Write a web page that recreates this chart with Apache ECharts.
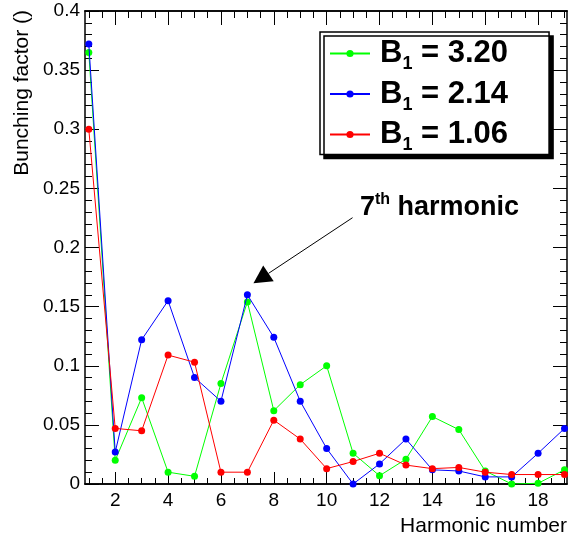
<!DOCTYPE html>
<html><head><meta charset="utf-8">
<script src="https://cdn.jsdelivr.net/npm/echarts@6/dist/echarts.min.js"></script>
<style>html,body{margin:0;padding:0;background:#fff}#c{width:575px;height:541px}</style>
</head><body><div id="c"></div>
<script>
const harmonics = [1,2,3,4,5,6,7,8,9,10,11,12,13,14,15,16,17,18,19];
const b320 = [0.365,0.020,0.073,0.010,0.0065,0.085,0.154,0.062,0.084,0.100,0.026,0.007,0.021,0.057,0.046,0.011,0.000,0.0006,0.012];
const b214 = [0.372,0.027,0.122,0.155,0.090,0.070,0.160,0.124,0.070,0.030,0.000,0.017,0.038,0.012,0.011,0.006,0.006,0.026,0.047];
const b106 = [0.300,0.047,0.045,0.109,0.103,0.010,0.010,0.054,0.038,0.013,0.019,0.026,0.016,0.013,0.014,0.010,0.008,0.008,0.008];
const seriesNames = ['B1 = 3.20','B1 = 2.14','B1 = 1.06'];
const seriesValues = [b320, b214, b106];
const seriesColors = ['#00ff00','#0000ff','#ff0000'];
const xMajorTicks = [2,4,6,8,10,12,14,16,18];
const xMinorTicks = [1,1.5,2,2.5,3,3.5,4,4.5,5,5.5,6,6.5,7,7.5,8,8.5,9,9.5,10,10.5,11,11.5,12,12.5,13,13.5,14,14.5,15,15.5,16,16.5,17,17.5,18,18.5,19];
const xRange = [0.856, 19.094];
const yRange = [0, 0.4];
const yStep = 0.05;
const xTitle = 'Harmonic number';
const yTitle = 'Bunching factor ()';
const arrowTail = [10.98, 0.2252];
const arrowTip = [7.23, 0.1697];
const noteAnchor = [11.26, 0.2342];

const FONT = 'Liberation Sans, Arial, sans-serif';
const chart = echarts.init(document.getElementById('c'), null, {renderer:'canvas'});

function xAxisDef(pos, ticks, len, labels) {
  return {
    type:'value', min:xRange[0], max:xRange[1], position:pos, gridIndex:0,
    axisLine:{show:true, onZero:false, lineStyle:{color:'#000', width:1.5}},
    splitLine:{show:false},
    axisTick:{show:true, inside:true, length:len, customValues:ticks, lineStyle:{color:'#000', width:1}},
    axisLabel:labels ? {show:true, customValues:ticks, fontSize:19, color:'#000', fontFamily:FONT, margin:7} : {show:false}
  };
}
function yAxisDef(pos, labels) {
  return {
    type:'value', min:yRange[0], max:yRange[1], interval:yStep, position:pos, gridIndex:0,
    axisLine:{show:true, onZero:false, lineStyle:{color:'#000', width:1.5}},
    splitLine:{show:false},
    axisTick:{show:true, inside:true, length:14, lineStyle:{color:'#000', width:1}},
    minorTick:{show:true, splitNumber:5, length:7, lineStyle:{color:'#000', width:1}},
    axisLabel:labels ? {show:true, fontSize:19, color:'#000', fontFamily:FONT, margin:5} : {show:false}
  };
}

const series = seriesNames.map((n, i) => ({
  name:n, type:'line', xAxisIndex:0, yAxisIndex:0,
  data: harmonics.map((h, k) => [h, seriesValues[i][k]]),
  symbol:'circle', symbolSize:7, showSymbol:true,
  lineStyle:{color:seriesColors[i], width:1},
  itemStyle:{color:seriesColors[i]},
  z: 2 + i, animation:false
}));

chart.setOption({
  animation:false,
  backgroundColor:'#fff',
  grid:{left:85, right:8, top:11, bottom:57, containLabel:false, outerBoundsMode:'none'},
  xAxis:[
    xAxisDef('bottom', xMajorTicks, 12, true),
    xAxisDef('bottom', xMinorTicks, 6, false),
    xAxisDef('top', xMajorTicks, 14, false),
    xAxisDef('top', xMinorTicks, 7, false)
  ],
  yAxis:[yAxisDef('left', true), yAxisDef('right', false)],
  legend:{
    show:true, orient:'vertical', left:320, top:32,
    data:seriesNames,
    itemWidth:40, itemHeight:9, itemGap:5,
    padding:[6,41,0,9],
    backgroundColor:'#fff', borderColor:'#000', borderWidth:1.5,
    shadowColor:'#000', shadowOffsetX:4, shadowOffsetY:4, shadowBlur:0,
    formatter: n => '{b0|B}{s|' + n.slice(1,2) + '}{b|' + n.slice(2) + '}',
    textStyle:{
      rich:{
        b0:{fontSize:31, fontWeight:'bold', fontFamily:FONT, color:'#000', lineHeight:40, padding:[0,0,0,5]},
        b:{fontSize:31, fontWeight:'bold', fontFamily:FONT, color:'#000', lineHeight:40},
        s:{fontSize:18, fontWeight:'bold', fontFamily:FONT, color:'#000', lineHeight:14, verticalAlign:'bottom'}
      }
    }
  },
  series
});

function drawNotes() {
  const p = a => chart.convertToPixel({xAxisIndex:0, yAxisIndex:0}, a);
  const tail = p(arrowTail), tip = p(arrowTip), anc = p(noteAnchor);
  const dx = tip[0]-tail[0], dy = tip[1]-tail[1];
  const L = Math.hypot(dx, dy), ux = dx/L, uy = dy/L;
  const hl = 18, hw = 9.5;
  const bx = tip[0]-ux*hl, by = tip[1]-uy*hl;
  chart.setOption({
    graphic:[
      {type:'line', shape:{x1:tail[0], y1:tail[1], x2:bx, y2:by}, style:{stroke:'#000', lineWidth:1}, z:10},
      {type:'polygon', shape:{points:[[tip[0],tip[1]],[bx-uy*hw, by+ux*hw],[bx+uy*hw, by-ux*hw]]}, style:{fill:'#000'}, z:10},
      {type:'text', x:anc[0], y:anc[1], z:10, style:{
        text:'{a|7}{s|th}{a| harmonic}', align:'left', verticalAlign:'middle',
        rich:{
          a:{fontSize:27, fontWeight:'bold', fontFamily:FONT, fill:'#000', lineHeight:30},
          s:{fontSize:16, fontWeight:'bold', fontFamily:FONT, fill:'#000', lineHeight:16, verticalAlign:'top'}
        }
      }},
      {type:'text', x:22, y:10, rotation:Math.PI/2, z:10, style:{
        text:yTitle, fontSize:21, fontFamily:FONT, fill:'#000', align:'right', verticalAlign:'middle'}},
      {type:'text', x:567, y:526, z:10, style:{
        text:xTitle, fontSize:21, fontFamily:FONT, fill:'#000', align:'right', verticalAlign:'middle'}}
    ]
  });
}
drawNotes();
</script>
</body></html>
